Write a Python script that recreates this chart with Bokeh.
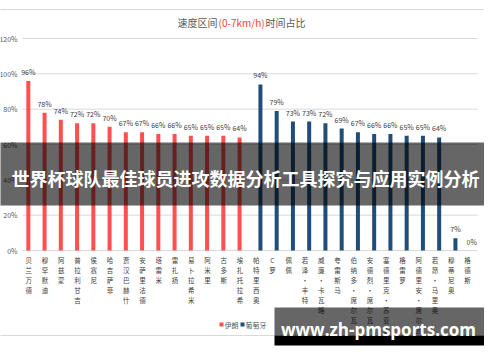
from bokeh.plotting import figure
from bokeh.models import Range1d, ColumnDataSource
from bokeh.core.properties import value
from bokeh.embed import file_html
from bokeh.resources import INLINE

# ---------------- data ----------------
title_parts = ["速度区间", "(0-7km/h)", "时间占比"]
series_names = ["伊朗", "葡萄牙"]
iran_players = ["贝兰万德", "穆罕默迪", "阿兹蒙", "普拉利甘吉", "侯赛尼", "哈吉萨菲", "贾汉巴赫什",
                "安萨里法德", "塔雷米", "雷扎扬", "易卜拉希米", "阿米里", "古多斯", "埃扎托拉希"]
iran_values = [96, 78, 74, 72, 72, 70, 67, 67, 66, 66, 65, 65, 65, 64]
portugal_players = ["帕特里西奥", "C罗", "佩佩", "若泽·丰特", "威廉·卡瓦略", "夸雷斯马", "伯纳多·席尔瓦",
                    "安德烈·席尔瓦", "塞德里克·苏亚雷斯", "格雷罗", "阿德里安·席尔瓦", "若昂·马里奥", "穆蒂尼奥", "格德斯"]
portugal_values = [94, 79, 73, 73, 72, 69, 67, 66, 66, 65, 65, 64, 7, 0]
y_ticks = [0, 20, 40, 60, 80, 100, 120]
y_tick_labels = ["0%", "20%", "40%", "60%", "80%", "100%", "120%"]
overlay_text = "世界杯球队最佳球员进攻数据分析工具探究与应用实例分析"
banner_text = "www.zh-pmsports.com"

# ---------------- layout helpers (pixel design -> data) ----------------
W, H = 484, 346
OX, OY = 5, 8
n_cat = len(iran_players) + len(portugal_players)
PX_LEFT, PX_RIGHT = 27.0, 482.0
PX_ZERO, PX_TOP = 258.0, 46.0
sx = (PX_RIGHT - PX_LEFT) / n_cat
sy = (PX_ZERO - PX_TOP) / 120.0


def X(px):
    return -0.5 + (px - PX_LEFT) / sx


def Y(py):
    return (PX_ZERO - py) / sy


CJK = value("Noto Sans CJK SC")

p = figure(width=W, height=H, output_backend="svg", toolbar_location=None,
           x_range=Range1d(X(OX), X(OX + W)), y_range=Range1d(Y(OY + H), Y(OY)),
           x_axis_type=None, y_axis_type=None, min_border=0,
           outline_line_color=None, background_fill_color="white", border_fill_color="white")
p.grid.visible = False

# card lines
p.segment(x0=[X(0), X(0)], x1=[X(500), X(500)], y0=[Y(17), Y(343)], y1=[Y(17), Y(343)],
          line_color="#D9D9D9", line_width=1)

# gridlines + y labels
p.segment(x0=[X(PX_LEFT)] * len(y_ticks), x1=[X(PX_RIGHT)] * len(y_ticks), y0=y_ticks, y1=y_ticks,
          line_color="#D9D9D9", line_width=1)
p.text(x=[X(22)] * len(y_ticks), y=y_ticks, text=y_tick_labels, text_align="right",
       text_baseline="middle", text_font=CJK, text_font_size=value("7px"), text_color="#595959")

# bars
off = 2.3 / sx
bw = 4.0 / sx
iran_x = [i - off for i in range(len(iran_players))]
port_x = [len(iran_players) + i + off for i in range(len(portugal_players))]
src_i = ColumnDataSource(dict(x=iran_x, top=iran_values, lab=[f"{v}%" for v in iran_values]))
src_p = ColumnDataSource(dict(x=port_x, top=portugal_values, lab=[f"{v}%" for v in portugal_values]))
p.vbar(x="x", top="top", bottom=0, width=bw, source=src_i, fill_color="#FF5050", line_color=None)
p.vbar(x="x", top="top", bottom=0, width=bw, source=src_p, fill_color="#1F4E79", line_color=None)
for s in (src_i, src_p):
    p.text(x="x", y="top", text="lab", source=s, y_offset=-4, text_align="center",
           text_baseline="bottom", text_font=CJK, text_font_size=value("7px"), text_color="#404040")

# category labels (stacked vertical)
all_players = iran_players + portugal_players
cat_x = [i - 0.12 for i in range(n_cat)]
p.text(x=cat_x, y=[Y(262)] * n_cat, text=["\n".join(list(n)) for n in all_players],
       text_align="center", text_baseline="top", text_font=CJK, text_font_size=value("6.5px"),
       text_line_height=1.0, text_color="#404040")

# title
p.text(x=[X(182)], y=[Y(30)], text=[title_parts[0]], text_align="left", text_baseline="middle",
       text_font=CJK, text_font_size=value("10px"), text_color="#595959")
p.text(x=[X(223)], y=[Y(30)], text=[title_parts[1]], text_align="left", text_baseline="middle",
       text_font=CJK, text_font_size=value("10px"), text_color="#FF3B3B")
p.text(x=[X(270)], y=[Y(30)], text=[title_parts[2]], text_align="left", text_baseline="middle",
       text_font=CJK, text_font_size=value("10px"), text_color="#595959")

# legend
p.scatter(x=[X(226)], y=[Y(332)], marker="square", size=4, fill_color="#FF5050", line_color=None)
p.text(x=[X(229)], y=[Y(332)], text=[series_names[0]], text_align="left", text_baseline="middle",
       text_font=CJK, text_font_size=value("7px"), text_color="#595959")
p.scatter(x=[X(247)], y=[Y(332)], marker="square", size=4, fill_color="#1F4E79", line_color=None)
p.text(x=[X(250)], y=[Y(332)], text=[series_names[1]], text_align="left", text_baseline="middle",
       text_font=CJK, text_font_size=value("7px"), text_color="#595959")

# overlay band
p.quad(left=[X(0)], right=[X(500)], top=[Y(150)], bottom=[Y(213)], fill_color="black",
       fill_alpha=0.6, line_color=None)
p.text(x=[X(250)], y=[Y(185)], text=[overlay_text], text_align="center", text_baseline="middle",
       text_font=CJK, text_font_style="bold", text_font_size=value("18px"), text_color="white")

# bottom banner
p.quad(left=[X(279)], right=[X(491)], top=[Y(315)], bottom=[Y(343)], fill_color="black",
       fill_alpha=0.6, line_color=None)
p.quad(left=[X(279)], right=[X(491)], top=[Y(343)], bottom=[Y(353)], fill_color="black",
       line_color=None)
p.text(x=[X(383)], y=[Y(337)], text=[banner_text], text_align="center", text_baseline="middle",
       text_font=value("Open Sans"), text_font_style="bold", text_font_size=value("17px"),
       text_color="white")

open("out.html", "w").write(file_html(p, INLINE))
